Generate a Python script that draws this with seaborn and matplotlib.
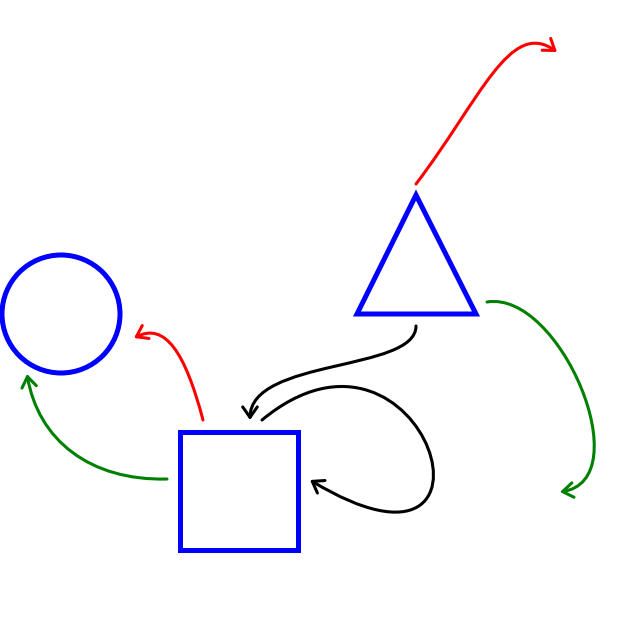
import matplotlib
matplotlib.use("Agg")
import matplotlib.pyplot as plt
import seaborn as sns
from matplotlib.patches import Circle, Rectangle, Polygon, FancyArrowPatch
from matplotlib.path import Path

# shapes (pixel coords, y down)
circle_center = (61, 314)
circle_radius = 59
square_corner = (180, 432)
square_size = 118
triangle_pts = [(416, 195), (357, 314), (476, 314)]

# curved arrows: cubic bezier control points + colour
arrow_paths = [
    [(416, 184), (480, 100), (510, 18), (557, 52)],
    [(487, 302), (560, 290), (640, 480), (560, 492)],
    [(416, 326), (416, 372), (250, 358), (250, 420)],
    [(262, 420), (425, 285), (525, 610), (310, 480)],
    [(203, 420), (185, 352), (165, 322), (134, 338)],
    [(167, 479), (90, 481), (38, 440), (27, 374)],
]
arrow_colors = ["red", "green", "black", "black", "red", "green"]

sns.set_style("white")
fig = plt.figure(figsize=(6.37, 6.17), dpi=100)
ax = fig.add_axes([0, 0, 1, 1])
ax.set_xlim(0, 637)
ax.set_ylim(617, 0)
ax.axis("off")

ax.add_patch(Circle(circle_center, circle_radius, fill=False, ec="blue", lw=3.6))
ax.add_patch(Rectangle(square_corner, square_size, square_size, fill=False, ec="blue", lw=3.6))
ax.add_patch(Polygon(triangle_pts, closed=True, fill=False, ec="blue", lw=3.6))

codes = [Path.MOVETO, Path.CURVE4, Path.CURVE4, Path.CURVE4]
for pts, col in zip(arrow_paths, arrow_colors):
    arr = FancyArrowPatch(path=Path(pts, codes),
                          arrowstyle="->,head_length=0.5,head_width=0.35",
                          mutation_scale=15, color=col, lw=2.2)
    ax.add_patch(arr)

fig.savefig("out.png", dpi=100)
